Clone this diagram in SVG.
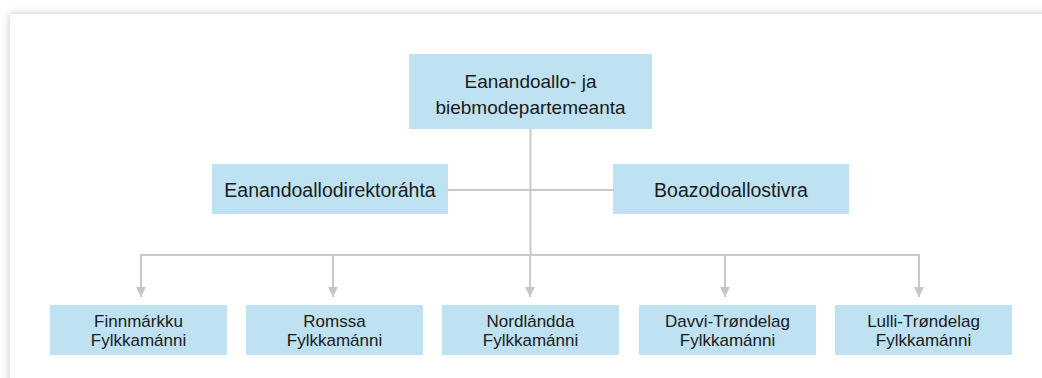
<svg xmlns="http://www.w3.org/2000/svg" width="1042" height="378" viewBox="0 0 1042 378">
  <defs>
    <filter id="shadow" x="-5%" y="-10%" width="110%" height="120%">
      <feDropShadow dx="0" dy="0" stdDeviation="5" flood-color="#000" flood-opacity="0.22"/>
    </filter>
    <marker id="arrow" markerUnits="userSpaceOnUse" markerWidth="12" markerHeight="12" viewBox="0 0 12 12" refX="10" refY="6" orient="auto">
      <path d="M0,1 L10,6 L0,11 Z" fill="#c6c6c6"/>
    </marker>
    <style>
      .box { fill: #bfe2f3; }
      .conn { stroke: #c9c9c9; stroke-width: 2; fill: none; }
      .big { font-family: "Liberation Sans", Arial, sans-serif; font-size: 19.5px; fill: #1a1a1a; text-anchor: middle; }
      .top { font-size: 19px; }
      .small { font-family: "Liberation Sans", Arial, sans-serif; font-size: 17px; fill: #1a1a1a; text-anchor: middle; }
    </style>
  </defs>
  <rect x="0" y="0" width="1042" height="378" fill="#ffffff"/>
  <rect x="10" y="14" width="1100" height="420" fill="#ffffff" filter="url(#shadow)"/>

  <g id="connectors">
    <line class="conn" x1="530.5" y1="129" x2="530.5" y2="255"/>
    <line class="conn" x1="448" y1="190" x2="613" y2="190"/>
    <line class="conn" x1="140" y1="255" x2="920" y2="255"/>
    <line class="conn" x1="141" y1="254" x2="141" y2="297" marker-end="url(#arrow)"/>
    <line class="conn" x1="333" y1="255" x2="333" y2="297" marker-end="url(#arrow)"/>
    <line class="conn" x1="530" y1="255" x2="530" y2="297" marker-end="url(#arrow)"/>
    <line class="conn" x1="725" y1="255" x2="725" y2="297" marker-end="url(#arrow)"/>
    <line class="conn" x1="919" y1="254" x2="919" y2="297" marker-end="url(#arrow)"/>
  </g>

  <g id="node-top">
    <rect class="box" x="409" y="54" width="243" height="75"/>
    <text class="big top" x="530.5" y="88">Eanandoallo- ja</text>
    <text class="big top" x="530.5" y="114">biebmodepartemeanta</text>
  </g>
  <g id="node-direktorahta">
    <rect class="box" x="212" y="164" width="236" height="50"/>
    <text class="big" x="330" y="197">Eanandoallodirektoráhta</text>
  </g>
  <g id="node-boazodoallostivra">
    <rect class="box" x="613" y="164" width="236" height="50"/>
    <text class="big" x="731" y="197">Boazodoallostivra</text>
  </g>

  <g id="node-finnmarkku">
    <rect class="box" x="50" y="305" width="177" height="50"/>
    <text class="small" x="138.5" y="327">Finnmárkku</text>
    <text class="small" x="138.5" y="346">Fylkkamánni</text>
  </g>
  <g id="node-romssa">
    <rect class="box" x="246" y="305" width="177" height="50"/>
    <text class="small" x="334.5" y="327">Romssa</text>
    <text class="small" x="334.5" y="346">Fylkkamánni</text>
  </g>
  <g id="node-nordlandda">
    <rect class="box" x="442" y="305" width="177" height="50"/>
    <text class="small" x="530.5" y="327">Nordlándda</text>
    <text class="small" x="530.5" y="346">Fylkkamánni</text>
  </g>
  <g id="node-davvi-trondelag">
    <rect class="box" x="639" y="305" width="177" height="50"/>
    <text class="small" x="727.5" y="327">Davvi-Trøndelag</text>
    <text class="small" x="727.5" y="346">Fylkkamánni</text>
  </g>
  <g id="node-lulli-trondelag">
    <rect class="box" x="835" y="305" width="177" height="50"/>
    <text class="small" x="923.5" y="327">Lulli-Trøndelag</text>
    <text class="small" x="923.5" y="346">Fylkkamánni</text>
  </g>
</svg>
